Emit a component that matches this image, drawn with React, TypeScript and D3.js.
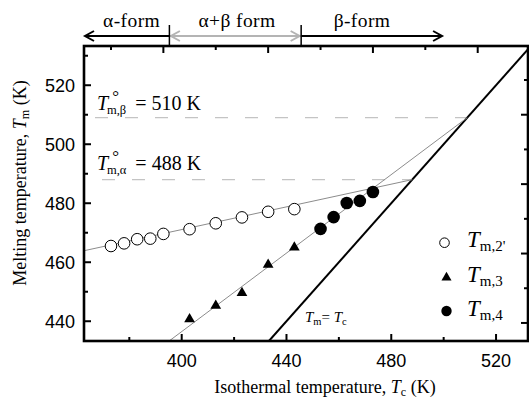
import React from 'react';
import * as d3 from 'd3';

// ---- data ----
const tc2 = [373, 378, 383, 388, 393, 403, 413, 423, 433, 443];
const tm2 = [465.5, 466.4, 467.8, 468.0, 469.6, 471.2, 473.2, 475.2, 477.1, 478.0];
const tc3 = [403, 413, 423, 433, 443];
const tm3 = [440.7, 445.3, 449.6, 459.2, 465.0];
const tc4 = [453, 458, 463, 468, 473];
const tm4 = [471.3, 475.3, 480.1, 480.8, 483.8];

// fit lines (end points, K)
const fit2Tc = [362.7, 488];
const fit2Tm = [463.9, 488];
const fit34Tc = [395.2, 509];
const fit34Tm = [433.3, 509];
// equilibrium melting levels (dashed)
const eqLevels = [509, 488];

const xMajor = [400, 440, 480, 520];
const xMinor = [380, 420, 460, 500];
const yMajor = [440, 460, 480, 500, 520];
const yMinor = [450, 470, 490, 510, 530];
const topMajor = [400, 440, 480, 520];
const topMinor = [380, 420, 460, 500];
const rightTicks = [0, 10, 20, 30, 40, 50, 60, 70];

// crystal-form regions along Tc
const formBounds = [362.7, 395.3, 445.6, 499.4];
const formLabels = ['α-form', 'α+β form', 'β-form'];

const SERIF = '"Liberation Serif", "DejaVu Serif", serif';
const SANS = '"Liberation Sans", Arial, sans-serif';
const serif = { fontFamily: SERIF };
const sans = { fontFamily: SANS };

export default function App() {
  const W = 529, H = 398;
  const L = 84, R = 528, T = 46, B = 341;
  const x = d3.scaleLinear().domain([362.7, 532.2]).range([L, R]);
  const y = d3.scaleLinear().domain([433.3, 533.3]).range([B, T]);
  const xTop = d3.scaleLinear().domain([369.7, 539.2]).range([L, R]);
  const yRight = d3.scaleLinear().domain([-5.2, 79.8]).range([B, T]);

  const line = d3.line<[number, number]>().x(d => x(d[0])).y(d => y(d[1]));
  const tri = d3.symbol().type(d3.symbolTriangle).size(50)() as string;
  const triLeg = d3.symbol().type(d3.symbolTriangle).size(44)() as string;

  const arrowY = 36;
  const fx = formBounds.map(v => x(v));
  fx[0] = L + 1;
  const head = (tip: number, dir: number, color: string) => (
    <path d={`M${tip + dir * 9},${arrowY - 5} L${tip},${arrowY} L${tip + dir * 9},${arrowY + 5}`}
      fill="none" stroke={color} strokeWidth={2} />
  );
  const labelX = [131.6, 237, 362];
  const grey = '#b4b4b4';

  return (
    <svg width={W} height={H} style={{ position: 'absolute', left: 0, top: 0, background: '#fff' }}>
      <defs>
        <clipPath id="plot"><rect x={L} y={T} width={R - L} height={B - T} /></clipPath>
      </defs>

      {/* crystal form arrows */}
      <line x1={fx[0]} x2={fx[1]} y1={arrowY} y2={arrowY} stroke="#000" strokeWidth={2} />
      {head(fx[0], 1, '#000')}
      <line x1={fx[1]} x2={fx[2]} y1={arrowY} y2={arrowY} stroke={grey} strokeWidth={2} />
      {head(fx[1] + 1.5, 1, grey)}
      {head(fx[2] - 1.5, -1, grey)}
      <line x1={fx[2]} x2={fx[3]} y1={arrowY} y2={arrowY} stroke="#000" strokeWidth={2} />
      {head(fx[3], -1, '#000')}
      {[fx[1], fx[2]].map((v, i) => (
        <line key={i} x1={v} x2={v} y1={25} y2={T} stroke="#000" strokeWidth={1.5} />
      ))}
      {formLabels.map((s, i) => (
        <text key={s} x={labelX[i]} y={27} fontSize={19.5} textAnchor="middle" letterSpacing={0.4} style={serif}>{s}</text>
      ))}

      {/* dashed equilibrium lines */}
      {eqLevels.map((v, i) => (
        <line key={v} x1={L + 2} x2={x(v)} y1={y(v)} y2={y(v)} stroke="#c4c4c4" strokeWidth={1.3}
          strokeDasharray="13 17" strokeDashoffset={i === 0 ? 21 : 14} />
      ))}

      <g clipPath="url(#plot)">
        <path d={line([[433.3, 433.3], [540, 540]])!} stroke="#000" strokeWidth={2} fill="none" />
        <path d={line(fit2Tc.map((v, i) => [v, fit2Tm[i]] as [number, number]))!} stroke="#8c8c8c" strokeWidth={1} fill="none" />
        <path d={line(fit34Tc.map((v, i) => [v, fit34Tm[i]] as [number, number]))!} stroke="#8c8c8c" strokeWidth={1} fill="none" />
      </g>

      {/* markers */}
      {tc2.map((v, i) => (
        <circle key={'c' + i} cx={x(v)} cy={y(tm2[i])} r={5.8} fill="#fff" stroke="#000" strokeWidth={1} />
      ))}
      {tc3.map((v, i) => (
        <path key={'t' + i} d={tri} transform={`translate(${x(v)},${y(tm3[i])})`} fill="#000" />
      ))}
      {tc4.map((v, i) => (
        <circle key={'f' + i} cx={x(v)} cy={y(tm4[i])} r={6.3} fill="#000" />
      ))}

      {/* frame */}
      <rect x={L} y={T} width={R - L} height={B - T} fill="none" stroke="#000" strokeWidth={2.6} />
      {xMajor.map(v => <line key={'xM' + v} x1={x(v)} x2={x(v)} y1={B} y2={B - 7} stroke="#000" strokeWidth={2} />)}
      {xMinor.map(v => <line key={'xm' + v} x1={x(v)} x2={x(v)} y1={B} y2={B - 4} stroke="#000" strokeWidth={2} />)}
      {topMajor.map(v => <line key={'tM' + v} x1={xTop(v)} x2={xTop(v)} y1={T} y2={T + 7} stroke="#000" strokeWidth={2} />)}
      {topMinor.map(v => <line key={'tm' + v} x1={xTop(v)} x2={xTop(v)} y1={T} y2={T + 4} stroke="#000" strokeWidth={2} />)}
      {yMajor.map(v => <line key={'yM' + v} x1={L} x2={L + 7} y1={y(v)} y2={y(v)} stroke="#000" strokeWidth={2} />)}
      {yMinor.map(v => <line key={'ym' + v} x1={L} x2={L + 4} y1={y(v)} y2={y(v)} stroke="#000" strokeWidth={2} />)}
      {rightTicks.map((v, i) => (
        <line key={'r' + v} x1={R} x2={R - (i % 2 === 0 ? 7 : 4)} y1={yRight(v)} y2={yRight(v)} stroke="#000" strokeWidth={2} />
      ))}

      {/* tick labels */}
      {xMajor.map(v => (
        <text key={'xl' + v} x={x(v)} y={367} fontSize={18} style={sans} textAnchor="middle">{v}</text>
      ))}
      {yMajor.map(v => (
        <text key={'yl' + v} x={75} y={y(v) + 6.5} fontSize={18} style={sans} textAnchor="end">{v}</text>
      ))}

      {/* axis titles */}
      <text x={325} y={393} fontSize={18} textAnchor="middle" style={serif}>
        Isothermal temperature, <tspan fontStyle="italic">T</tspan><tspan fontSize={12} dy={3}>c</tspan><tspan dy={-3}> (K)</tspan>
      </text>
      <text transform="translate(26,183) rotate(-90)" fontSize={18} textAnchor="middle" style={serif}>
        Melting temperature, <tspan fontStyle="italic">T</tspan><tspan fontSize={12} dy={3}>m</tspan><tspan dy={-3}> (K)</tspan>
      </text>

      {/* equilibrium labels */}
      {[{ yb: 110, sub: 'm,β', val: '510 K' }, { yb: 170, sub: 'm,α', val: '488 K' }].map(d => (
        <text key={d.sub} x={97} y={d.yb} fontSize={20} style={serif}>
          <tspan fontStyle="italic">T</tspan>
          <tspan fontSize={17} dx={4} dy={-8.5}>°</tspan>
          <tspan fontSize={12.5} dx={-12} dy={12}>{d.sub}</tspan>
          <tspan dx={9} dy={-3.5}>= {d.val}</tspan>
        </text>
      ))}

      {/* Tm = Tc label */}
      <text x={305} y={322} fontSize={15} style={serif}>
        <tspan fontStyle="italic">T</tspan><tspan fontSize={10.5} dy={3}>m</tspan><tspan dy={-3}>= </tspan>
        <tspan fontStyle="italic">T</tspan><tspan fontSize={10.5} dy={3}>c</tspan>
      </text>

      {/* legend */}
      <circle cx={444.5} cy={242.7} r={4.8} fill="#fff" stroke="#000" strokeWidth={1} />
      <path d={triLeg} transform="translate(446.5,277.5)" fill="#000" />
      <circle cx={446.5} cy={311} r={5.2} fill="#000" />
      {[{ yb: 247, sub: "m,2'" }, { yb: 282, sub: 'm,3' }, { yb: 316, sub: 'm,4' }].map(d => (
        <text key={d.sub} x={467} y={d.yb} fontSize={23} style={serif}>
          <tspan fontStyle="italic">T</tspan><tspan fontSize={15} dy={4}>{d.sub}</tspan>
        </text>
      ))}
    </svg>
  );
}
